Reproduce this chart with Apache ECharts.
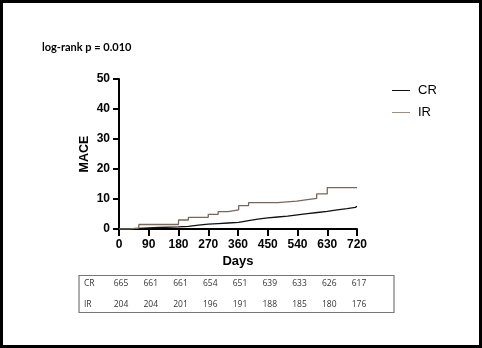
<!DOCTYPE html>
<html>
<head>
<meta charset="utf-8">
<script src="https://cdn.jsdelivr.net/npm/echarts@6/dist/echarts.min.js"></script>
<style>
html,body{margin:0;padding:0;background:#fff;}
#c{width:482px;height:348px;}
</style>
</head>
<body>
<div id="c"></div>
<script>
// ---- data ----
var xTicks = [0, 90, 180, 270, 360, 450, 540, 630, 720];
var crDays = [0, 30, 60, 120, 180, 210, 240, 270, 300, 330, 362, 392, 420, 450, 480, 510, 540, 570, 600, 630, 660, 690, 715, 720];
var crMace = [0, 0.2, 0.5, 0.7, 0.9, 1.3, 1.6, 1.8, 2.0, 2.2, 2.8, 3.3, 3.7, 4.0, 4.3, 4.7, 5.1, 5.5, 5.9, 6.4, 6.8, 7.2, 7.6, 7.6];
var irDays = [0, 30, 60, 180, 210, 270, 300, 330, 362, 392, 480, 538, 570, 598, 630, 720];
var irMace = [0, 0.3, 1.5, 3.0, 3.9, 4.9, 5.8, 6.4, 7.8, 8.8, 9.3, 9.8, 10.2, 11.7, 13.8, 13.8];
var riskDays = [0, 90, 180, 270, 360, 450, 540, 630, 720];
var crRisk = [665, 661, 661, 654, 651, 639, 633, 626, 617];
var irRisk = [204, 204, 201, 196, 191, 188, 185, 180, 176];
var titleText = 'log-rank p = 0.010';

function pairs(xs, ys) { return xs.map(function (x, i) { return [x, ys[i]]; }); }

var chart = echarts.init(document.getElementById('c'), null, {renderer: 'canvas'});
var axisFont = {fontFamily: 'Liberation Sans, Arial, sans-serif', fontWeight: 'bold', fontSize: 12, color: '#000'};

chart.setOption({
  animation: false,
  backgroundColor: '#fff',
  grid: {left: 119, top: 79, width: 238, height: 150, containLabel: false},
  xAxis: {
    type: 'value', min: 0, max: 720, interval: 90,
    name: 'Days', nameLocation: 'middle', nameGap: 26,
    nameTextStyle: {fontFamily: 'Liberation Sans, Arial, sans-serif', fontWeight: 'bold', fontSize: 13, color: '#000'},
    axisLine: {show: true, lineStyle: {color: '#000', width: 2}},
    axisTick: {show: true, length: 7, lineStyle: {color: '#000', width: 2}},
    axisLabel: Object.assign({margin: 10}, axisFont),
    splitLine: {show: false}
  },
  yAxis: {
    type: 'value', min: 0, max: 50, interval: 10,
    name: 'MACE', nameLocation: 'middle', nameGap: 28, nameRotate: 90,
    nameTextStyle: {fontFamily: 'Liberation Sans, Arial, sans-serif', fontWeight: 'bold', fontSize: 12.5, color: '#000'},
    axisLine: {show: true, lineStyle: {color: '#000', width: 2}},
    axisTick: {show: true, length: 6, lineStyle: {color: '#000', width: 2}},
    axisLabel: Object.assign({margin: 9}, axisFont),
    splitLine: {show: false}
  },
  legend: {
    orient: 'vertical', left: 392, top: 84, padding: 0, itemWidth: 18, itemHeight: 10, itemGap: 9,
    icon: 'path://M0,4.5 L18,4.5 L18,5.5 L0,5.5 Z',
    textStyle: {fontFamily: 'Liberation Sans, Arial, sans-serif', fontSize: 13, color: '#000', padding: [0, 0, 0, 3]},
    data: ['CR', 'IR']
  },
  series: [
    {name: 'CR', type: 'line', step: 'end', symbol: 'none', data: pairs(crDays, crMace),
     lineStyle: {color: '#111', width: 1.3}, itemStyle: {color: '#111'}},
    {name: 'IR', type: 'line', step: 'end', symbol: 'none', data: pairs(irDays, irMace),
     lineStyle: {color: '#7a675a', width: 1.3}, itemStyle: {color: '#a08f80'}}
  ]
});

// table + frame + title via graphic, positioned by the x-axis scale
var g = [];
g.push({type: 'rect', shape: {x: 1.5, y: 1.5, width: 479, height: 345}, style: {fill: 'none', stroke: '#000', lineWidth: 3}});
g.push({type: 'text', left: 42, top: 42, style: {text: titleText, font: 'bold 11px Lato, "Open Sans", sans-serif', fill: '#000'}});
g.push({type: 'rect', shape: {x: 79, y: 275.5, width: 315, height: 37}, style: {fill: 'none', stroke: '#777', lineWidth: 1.2}});
var tfont = '8.5px "Open Sans", Lato, sans-serif';
g.push({type: 'text', x: 84, y: 283.5, style: {text: 'CR', font: tfont, fill: '#333', textVerticalAlign: 'middle'}});
g.push({type: 'text', x: 84, y: 304.5, style: {text: 'IR', font: tfont, fill: '#333', textVerticalAlign: 'middle'}});
riskDays.forEach(function (d, i) {
  var px = chart.convertToPixel({xAxisIndex: 0}, d) + 2;
  g.push({type: 'text', x: px, y: 283.5, style: {text: String(crRisk[i]), font: tfont, fill: '#333', textAlign: 'center', textVerticalAlign: 'middle'}});
  g.push({type: 'text', x: px, y: 304.5, style: {text: String(irRisk[i]), font: tfont, fill: '#333', textAlign: 'center', textVerticalAlign: 'middle'}});
});
chart.setOption({graphic: g});
</script>
</body>
</html>
